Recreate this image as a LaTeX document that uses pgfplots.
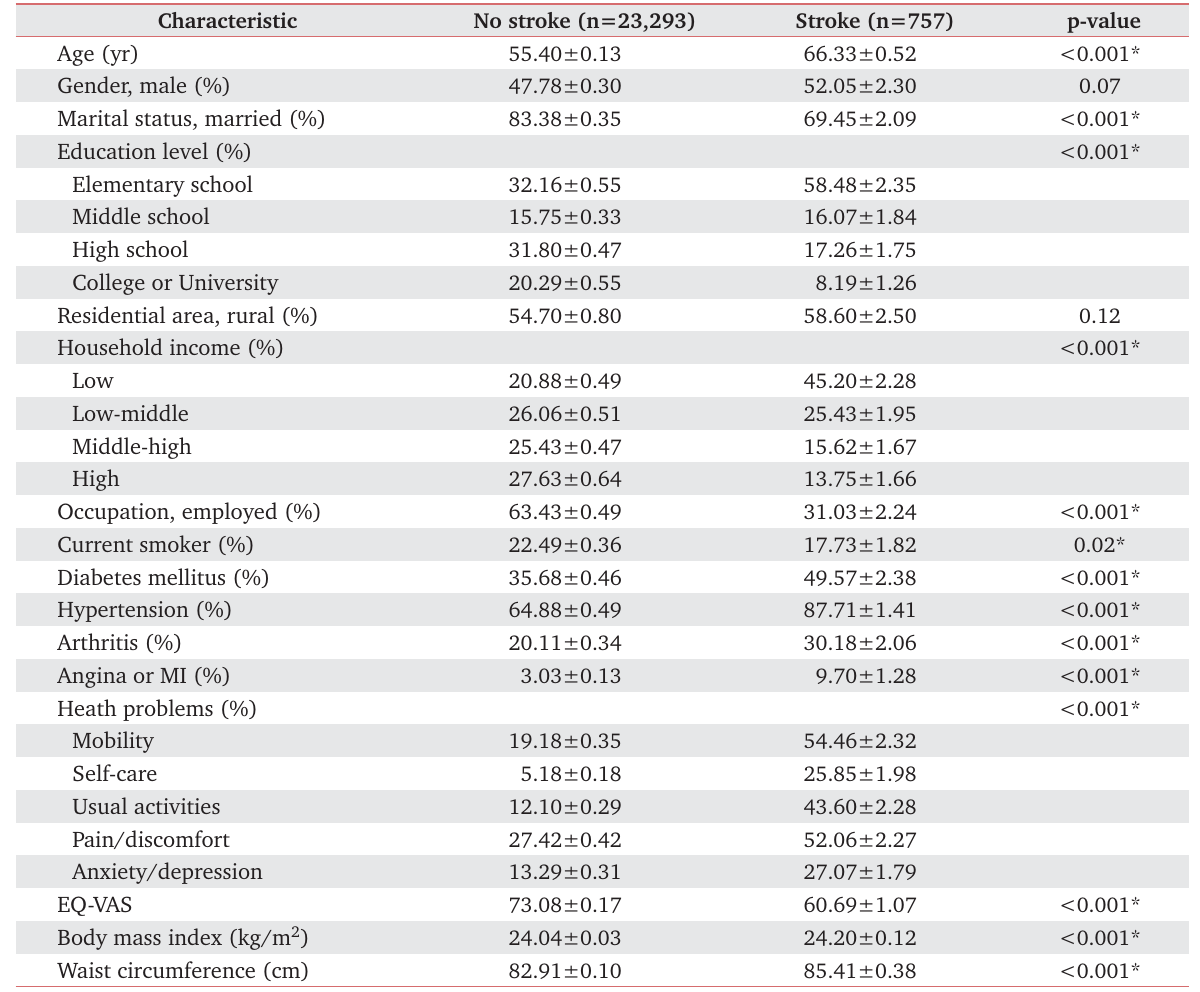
\documentclass[border=0pt]{standalone}
\usepackage[T1]{fontenc}
\usepackage{charter}
\usepackage{pgfplots}
\pgfplotsset{compat=1.18}
\definecolor{stripe}{RGB}{230,231,232}
\definecolor{rule}{RGB}{214,108,110}
\definecolor{ink}{RGB}{35,31,32}
\tikzset{cell/.style={inner sep=0pt, text=ink, font=\fontsize{21.5}{26}\selectfont},
         lab/.style={cell, anchor=base west, font=\fontsize{22.6}{26}\selectfont},
         head/.style={cell, anchor=base, font=\fontsize{21.8}{26}\selectfont\bfseries}}
% row macro: index, label x, label, no stroke, stroke, p
\newcommand{\row}[6]{%
  \node[lab] at (axis cs:#2,{36.5+32.75*(#1+0.5)+8.2}) {#3};
  \node[cell,anchor=base east] at (axis cs:622,{36.5+32.75*(#1+0.5)+8.2}) {#4};
  \node[cell,anchor=base east] at (axis cs:917,{36.5+32.75*(#1+0.5)+8.2}) {#5};
  \node[cell,anchor=base] at (axis cs:1100,{36.5+32.75*(#1+0.5)+8.2}) {#6};
}
\newcommand{\pmv}[2]{#1\textpm#2}
\begin{document}
\begin{tikzpicture}
\begin{axis}[
  width=1200bp, height=991bp, scale only axis,
  xmin=0, xmax=1200, ymin=0, ymax=991, y dir=reverse,
  hide axis, clip=false,
]
% background
\addplot[draw=none, fill=white] coordinates {(0,0) (1200,0) (1200,991) (0,991)};
% header stripe
\addplot[draw=none, fill=stripe] coordinates {(15.5,4) (1189,4) (1189,36.5) (15.5,36.5)};
% row stripes (odd rows)
\addplot[draw=none, fill=stripe] coordinates {(15.5,69.25) (1189,69.25) (1189,102) (15.5,102)};
\addplot[draw=none, fill=stripe] coordinates {(15.5,134.75) (1189,134.75) (1189,167.5) (15.5,167.5)};
\addplot[draw=none, fill=stripe] coordinates {(15.5,200.25) (1189,200.25) (1189,233) (15.5,233)};
\addplot[draw=none, fill=stripe] coordinates {(15.5,265.75) (1189,265.75) (1189,298.5) (15.5,298.5)};
\addplot[draw=none, fill=stripe] coordinates {(15.5,331.25) (1189,331.25) (1189,364) (15.5,364)};
\addplot[draw=none, fill=stripe] coordinates {(15.5,396.75) (1189,396.75) (1189,429.5) (15.5,429.5)};
\addplot[draw=none, fill=stripe] coordinates {(15.5,462.25) (1189,462.25) (1189,495) (15.5,495)};
\addplot[draw=none, fill=stripe] coordinates {(15.5,527.75) (1189,527.75) (1189,560.5) (15.5,560.5)};
\addplot[draw=none, fill=stripe] coordinates {(15.5,593.25) (1189,593.25) (1189,626) (15.5,626)};
\addplot[draw=none, fill=stripe] coordinates {(15.5,658.75) (1189,658.75) (1189,691.5) (15.5,691.5)};
\addplot[draw=none, fill=stripe] coordinates {(15.5,724.25) (1189,724.25) (1189,757) (15.5,757)};
\addplot[draw=none, fill=stripe] coordinates {(15.5,789.75) (1189,789.75) (1189,822.5) (15.5,822.5)};
\addplot[draw=none, fill=stripe] coordinates {(15.5,855.25) (1189,855.25) (1189,888) (15.5,888)};
\addplot[draw=none, fill=stripe] coordinates {(15.5,920.75) (1189,920.75) (1189,953.5) (15.5,953.5)};
% rules
\addplot[rule, line width=1.6bp] coordinates {(15.5,4) (1189,4)};
\addplot[rule, line width=1.6bp] coordinates {(15.5,36.5) (1189,36.5)};
\addplot[rule, line width=1.6bp] coordinates {(15.5,986.5) (1189,986.5)};
% header
\node[head] at (axis cs:227.5,28.4) {Characteristic};
\node[head] at (axis cs:585,28.4) {No stroke (n=23,293)};
\node[head] at (axis cs:875,28.4) {Stroke (n=757)};
\node[head] at (axis cs:1104,28.4) {p-value};
% body
\row{0}{57.3}{Age (yr)}{\pmv{55.40}{0.13}}{\pmv{66.33}{0.52}}{<0.001*}
\row{1}{57.3}{Gender, male (\%)}{\pmv{47.78}{0.30}}{\pmv{52.05}{2.30}}{0.07}
\row{2}{57.3}{Marital status, married (\%)}{\pmv{83.38}{0.35}}{\pmv{69.45}{2.09}}{<0.001*}
\row{3}{57.3}{Education level (\%)}{}{}{<0.001*}
\row{4}{72.3}{Elementary school}{\pmv{32.16}{0.55}}{\pmv{58.48}{2.35}}{}
\row{5}{72.3}{Middle school}{\pmv{15.75}{0.33}}{\pmv{16.07}{1.84}}{}
\row{6}{72.3}{High school}{\pmv{31.80}{0.47}}{\pmv{17.26}{1.75}}{}
\row{7}{72.3}{College or University}{\pmv{20.29}{0.55}}{\pmv{8.19}{1.26}}{}
\row{8}{57.3}{Residential area, rural (\%)}{\pmv{54.70}{0.80}}{\pmv{58.60}{2.50}}{0.12}
\row{9}{57.3}{Household income (\%)}{}{}{<0.001*}
\row{10}{72.3}{Low}{\pmv{20.88}{0.49}}{\pmv{45.20}{2.28}}{}
\row{11}{72.3}{Low-middle}{\pmv{26.06}{0.51}}{\pmv{25.43}{1.95}}{}
\row{12}{72.3}{Middle-high}{\pmv{25.43}{0.47}}{\pmv{15.62}{1.67}}{}
\row{13}{72.3}{High}{\pmv{27.63}{0.64}}{\pmv{13.75}{1.66}}{}
\row{14}{57.3}{Occupation, employed (\%)}{\pmv{63.43}{0.49}}{\pmv{31.03}{2.24}}{<0.001*}
\row{15}{57.3}{Current smoker (\%)}{\pmv{22.49}{0.36}}{\pmv{17.73}{1.82}}{0.02*}
\row{16}{57.3}{Diabetes mellitus (\%)}{\pmv{35.68}{0.46}}{\pmv{49.57}{2.38}}{<0.001*}
\row{17}{57.3}{Hypertension (\%)}{\pmv{64.88}{0.49}}{\pmv{87.71}{1.41}}{<0.001*}
\row{18}{57.3}{Arthritis (\%)}{\pmv{20.11}{0.34}}{\pmv{30.18}{2.06}}{<0.001*}
\row{19}{57.3}{Angina or MI (\%)}{\pmv{3.03}{0.13}}{\pmv{9.70}{1.28}}{<0.001*}
\row{20}{57.3}{Heath problems (\%)}{}{}{<0.001*}
\row{21}{72.3}{Mobility}{\pmv{19.18}{0.35}}{\pmv{54.46}{2.32}}{}
\row{22}{72.3}{Self-care}{\pmv{5.18}{0.18}}{\pmv{25.85}{1.98}}{}
\row{23}{72.3}{Usual activities}{\pmv{12.10}{0.29}}{\pmv{43.60}{2.28}}{}
\row{24}{72.3}{Pain/discomfort}{\pmv{27.42}{0.42}}{\pmv{52.06}{2.27}}{}
\row{25}{72.3}{Anxiety/depression}{\pmv{13.29}{0.31}}{\pmv{27.07}{1.79}}{}
\row{26}{57.3}{EQ-VAS}{\pmv{73.08}{0.17}}{\pmv{60.69}{1.07}}{<0.001*}
\row{27}{57.3}{Body mass index (kg/m\textsuperscript{2})}{\pmv{24.04}{0.03}}{\pmv{24.20}{0.12}}{<0.001*}
\row{28}{57.3}{Waist circumference (cm)}{\pmv{82.91}{0.10}}{\pmv{85.41}{0.38}}{<0.001*}
\end{axis}
\end{tikzpicture}
\end{document}
